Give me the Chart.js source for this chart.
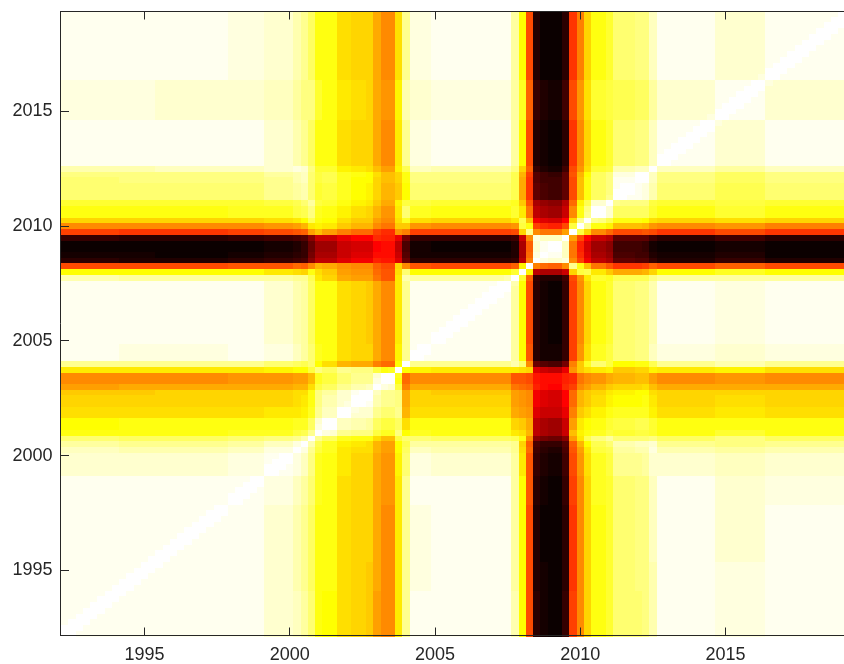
<!DOCTYPE html>
<html><head><meta charset="utf-8">
<script src="https://cdn.jsdelivr.net/npm/chart.js@4"></script>
<style>
html,body{margin:0;padding:0;background:#fff;overflow:hidden;width:844px;height:664px}
#wrap{position:absolute;left:0;top:0;width:870px;height:664px}
</style>
</head><body><div id="wrap"><canvas id="c" width="870" height="664"></canvas></div>
<script>
// quarterly periods (cell centres, in years)
const quarterTimes = Array.from({length: 109}, (_, k) => 1992.25 + 0.25 * k);
// per-quarter indicator profiles (3 components)
const featU = [0,0,0,0,0,0,0,0,0,0,0,0,0,
 0,0,0,0,0,0,0,0,0,0,
 0,0,0,0,0,
 -0.008,-0.008,-0.008,-0.008,-0.012,-0.016,0.045,
 0.131,0.140,0.140,0.190,0.190,0.215,0.215,0.220,0.280,0.315,0.315,0.190,
 0.025,0,0,0,
 0,0,0,0,0,0,0,0,0,0,0,
 -0.024,0.075,0.157,0.290,0.300,0.300,0.300,0.290,0.118,0.097,0.057,
 0.028,0.028,0.028,-0.022,-0.022,-0.022,-0.020,-0.019,-0.015,
 0,0,0,0,0,0,0,0,
 0.020,0.020,0.020,0.020,0.020,0.020,0.020,
 0,0,0,0,0,0,0,0,0,0,0,0];
const featW = [0.002,0.002,0.002,0.002,0.002,0.002,0.002,0.002,0.002,0.002,0.002,0.002,0.002,
 0.002,0.002,0.002,0.002,0.002,0.002,0.002,0.002,0.002,0.002,
 0.008,0.008,0.008,0.008,0.008,
 0.025,0.025,0.025,0.025,0.045,0.064,0.070,
 0.084,0.094,0.094,0.102,0.102,0.095,0.095,0.095,0.097,0.097,0.097,0.048,
 0,0.010,0.010,0.010,
 0.003,0.003,0.003,0.003,0.003,0.003,0.003,0.003,0.003,0.003,0.003,
 0,0,0.049,0.150,0.150,0.150,0.150,0.140,0.079,0.117,0.115,
 0.131,0.131,0.138,0.109,0.109,0.109,0.101,0.097,0.045,
 0.003,0.003,0.003,0.003,0.003,0.003,0.003,0.003,
 0,0,0,0,0,0,0,
 0,0,0,0,0,0,0,0,0,0,0,0];
const featZ = [0.008,0.008,0.008,0.008,0.008,0.008,0.008,0.008,0.004,0.004,0.004,0.004,0.004,
 0.002,0.002,0.002,0.002,0.002,0.002,0.002,0.002,0.002,0.002,
 0.006,0.006,0.006,0.006,0.006,
 0.008,0.008,0.008,0.008,0.013,0.020,0.035,
 0.019,0,0,0,0,0,0,0,0,0,0,0.047,
 0.081,0.010,0.010,0.010,
 0.005,0.005,0.005,0.005,0.005,0.005,0.005,0.005,0.005,0.005,0.005,
 0.056,0.169,0.314,0.519,0.540,0.550,0.550,0.514,0.348,0.214,0.143,
 0.075,0.075,0.037,0,0,0,0,0,0,
 0.003,0.003,0.003,0.003,0.003,0.003,0.003,0.003,
 0.010,0.010,0.010,0.010,0.010,0.010,0.010,
 0,0,0,0,0,0,0,0,0,0,0,0];
const xTickYears = [1995, 2000, 2005, 2010, 2015];
const yTickYears = [1995, 2000, 2005, 2010, 2015];
const halfStep = 0.125;
const lagSlope = 0.009, lagCap = 0.018;

// pairwise dissimilarity matrix
const N = quarterTimes.length;
const dist = [];
let dmax = 0;
for (let i = 0; i < N; i++) {
  dist.push([]);
  for (let j = 0; j < N; j++) {
    const d = Math.abs(featU[i]-featU[j]) + Math.abs(featW[i]-featW[j]) + Math.abs(featZ[i]-featZ[j])
      + Math.min(lagCap, lagSlope * Math.abs(i - j));
    dist[i].push(d);
    if (d > dmax) dmax = d;
  }
}
// "hot" colormap, 64 levels
function hot(v) {
  const n = 64, n1 = 24, n2 = 24, n3 = 16;
  const idx = Math.max(1, Math.min(n, Math.floor(v * n) + 1));
  const r = idx <= n1 ? idx / n1 : 1;
  const g = idx <= n1 ? 0 : (idx <= n1 + n2 ? (idx - n1) / n2 : 1);
  const b = idx <= n1 + n2 ? 0 : (idx - n1 - n2) / n3;
  return 'rgb(' + Math.round(r*255) + ',' + Math.round(g*255) + ',' + Math.round(b*255) + ')';
}
const cellData = [];
for (let i = 0; i < N; i++) for (let j = 0; j < N; j++)
  cellData.push({x: quarterTimes[j], y: quarterTimes[i], v: 1 - dist[i][j] / dmax});

const heatPlugin = {
  id: 'heat',
  beforeDatasetsDraw(chart) {
    const {ctx, scales: {x, y}} = chart;
    ctx.save();
    for (const c of cellData) {
      const x0 = Math.round(x.getPixelForValue(c.x - halfStep));
      const x1 = Math.round(x.getPixelForValue(c.x + halfStep));
      const y0 = Math.round(y.getPixelForValue(c.y + halfStep));
      const y1 = Math.round(y.getPixelForValue(c.y - halfStep));
      ctx.fillStyle = hot(c.v);
      ctx.fillRect(x0, y0, x1 - x0, y1 - y0);
    }
    ctx.restore();
  },
  afterDraw(chart) {
    const {ctx, chartArea: a, scales: {x, y}} = chart;
    ctx.save();
    ctx.strokeStyle = '#262626';
    ctx.lineWidth = 1;
    ctx.beginPath();
    const L = Math.floor(a.left) - 0.5, B = Math.floor(a.bottom) - 0.5, T = Math.floor(a.top) + 0.5;
    ctx.moveTo(L, T); ctx.lineTo(L, B + 0.5);
    ctx.moveTo(L - 0.5, B); ctx.lineTo(chart.width, B);
    ctx.moveTo(L - 0.5, T); ctx.lineTo(chart.width, T);
    const tl = 8;
    for (const v of xTickYears) {
      const px = Math.floor(x.getPixelForValue(v)) + 0.5;
      ctx.moveTo(px, B); ctx.lineTo(px, B - tl);
      ctx.moveTo(px, T); ctx.lineTo(px, T + tl);
    }
    for (const v of yTickYears) {
      const py = Math.floor(y.getPixelForValue(v)) + 0.5;
      ctx.moveTo(L, py); ctx.lineTo(L + tl + 0.5, py);
    }
    ctx.stroke();
    ctx.restore();
  }
};

function zeroPad(s) { s.paddingLeft = 0; s.paddingRight = 0; s.paddingTop = 0; s.paddingBottom = 0; }
const tickFont = {family: "'Liberation Sans', Arial, sans-serif", size: 18};
new Chart(document.getElementById('c'), {
  type: 'scatter',
  data: {datasets: [{label: 'similarity', data: [], pointRadius: 0}]},
  options: {
    responsive: false, animation: false, devicePixelRatio: 1,
    layout: {padding: {top: 11, right: 17.4, left: 0, bottom: 0}},
    plugins: {legend: {display: false}, tooltip: {enabled: false}},
    scales: {
      x: {type: 'linear', position: 'bottom', min: 1992.125, max: 2019.375,
        grid: {display: false, drawTicks: false}, border: {display: false},
        ticks: {color: '#262626', font: tickFont, padding: 8, maxRotation: 0, autoSkip: false,
          callback: v => String(v)},
        afterBuildTicks: s => { s.ticks = xTickYears.map(v => ({value: v})); },
        afterFit: s => { s.height = 27.5; zeroPad(s); }},
      y: {type: 'linear', position: 'left', min: 1992.125, max: 2019.375,
        grid: {display: false, drawTicks: false}, border: {display: false},
        ticks: {color: '#262626', font: tickFont, padding: 8.5, autoSkip: false,
          callback: v => String(v)},
        afterBuildTicks: s => { s.ticks = yTickYears.map(v => ({value: v})); },
        afterFit: s => { s.width = 61; zeroPad(s); }}
    }
  },
  plugins: [heatPlugin]
});
</script></body></html>
